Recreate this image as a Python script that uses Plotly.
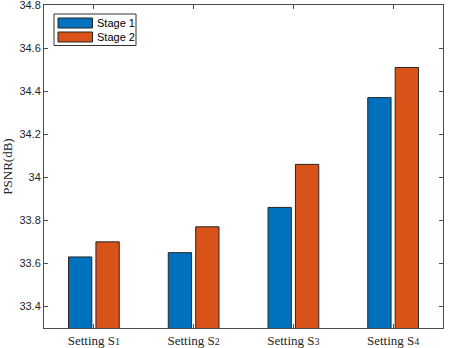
import plotly.graph_objects as go

# ---------------------------------------------------
# Data
# ---------------------------------------------------
settings = ["Setting S1", "Setting S2", "Setting S3", "Setting S4"]
setting_labels = ["Setting S<span style='font-size:10px'>%d</span>" % i for i in range(1, 5)]
stage1 = [33.63, 33.65, 33.86, 34.37]
stage2 = [33.70, 33.77, 34.06, 34.51]
y_ticks = [33.4, 33.6, 33.8, 34.0, 34.2, 34.4, 34.6, 34.8]
y_tick_text = ["33.4", "33.6", "33.8", "34", "34.2", "34.4", "34.6", "34.8"]

COLORS = {"Stage 1": "#0072BD", "Stage 2": "#D95319"}

W, H = 464, 348
L, R, T, B = 44, 21, 5, 20
PW, PH = W - L - R, H - T - B


def px_x(x):
    return (x - L) / PW


def px_y(y):
    return 1 - (y - T) / PH


fig = go.Figure()
for name, vals in [("Stage 1", stage1), ("Stage 2", stage2)]:
    fig.add_trace(go.Bar(
        x=settings, y=vals, name=name, showlegend=False,
        marker=dict(color=COLORS[name], line=dict(color="#262626", width=1)),
    ))

axis_style = dict(
    showline=True, linecolor="#4d4d4d", linewidth=1, mirror="ticks",
    ticks="inside", ticklen=4, tickcolor="#4d4d4d", showgrid=False,
    zeroline=False, automargin=False,
)

# legend drawn by hand so the swatches are wide like the original
shapes = [dict(type="rect", xref="paper", yref="paper",
               x0=px_x(54), x1=px_x(136), y0=px_y(14), y1=px_y(45.5),
               line=dict(color="#333333", width=1), fillcolor="white")]
annotations = []
for i, name in enumerate(["Stage 1", "Stage 2"]):
    top = 18 + i * 14
    shapes.append(dict(type="rect", xref="paper", yref="paper",
                       x0=px_x(58), x1=px_x(92.5), y0=px_y(top), y1=px_y(top + 10),
                       line=dict(color="#262626", width=1), fillcolor=COLORS[name]))
    annotations.append(dict(xref="paper", yref="paper", x=px_x(95), y=px_y(top + 5),
                            text=name, showarrow=False, xanchor="left", yanchor="middle",
                            font=dict(family="Liberation Sans, Arial", size=11, color="black")))

fig.update_layout(
    width=W, height=H,
    margin=dict(l=L, r=R, t=T, b=B),
    paper_bgcolor="white", plot_bgcolor="white",
    barmode="group", bargap=0.45, bargroupgap=0.15,
    shapes=shapes, annotations=annotations,
)
fig.update_xaxes(
    **axis_style,
    range=[-0.5, 3.5],
    tickvals=settings, ticktext=setting_labels,
    tickfont=dict(family="Liberation Serif, Times New Roman", size=13, color="#262626"),
)
fig.update_yaxes(
    **axis_style,
    range=[33.3, 34.8001], tickvals=y_ticks, ticktext=y_tick_text,
    ticklabeloverflow="allow",
    tickfont=dict(family="Liberation Sans, Arial", size=11, color="#262626"),
    title=dict(text="PSNR(dB)", standoff=5,
               font=dict(family="Liberation Serif, Times New Roman", size=13, color="#262626")),
)

fig.write_html("out.html", config={"displayModeBar": False},
               post_script="document.body.style.margin='0';")
